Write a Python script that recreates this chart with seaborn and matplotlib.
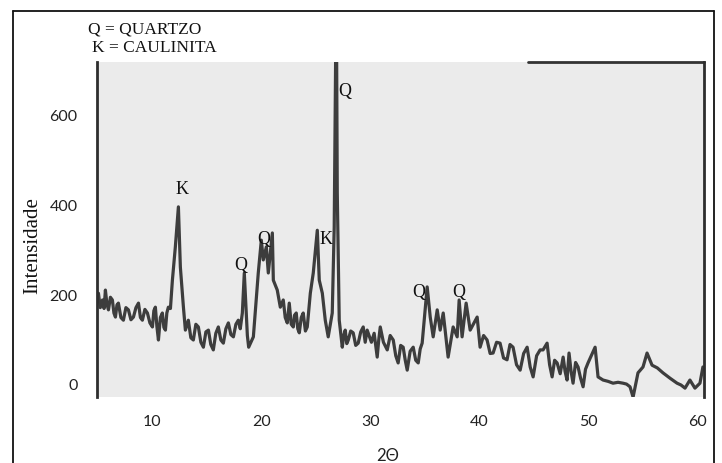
import matplotlib
matplotlib.use("Agg")
import matplotlib.pyplot as plt
from matplotlib.lines import Line2D
import seaborn as sns
import pandas as pd

# ---- data ----
two_theta = [
    5.08, 5.25, 5.45, 5.60, 5.72, 5.86, 6.00, 6.18, 6.36, 6.50, 6.64, 6.78, 6.91,
    7.14, 7.37, 7.60, 7.83, 8.06, 8.29, 8.52, 8.75, 8.93, 9.11, 9.34, 9.57, 9.80,
    10.03, 10.16, 10.30, 10.44, 10.58, 10.76, 10.94, 11.08, 11.22, 11.35, 11.49, 11.68,
    11.86, 12.13, 12.41, 12.59, 12.87,
    13.05, 13.32, 13.55, 13.78, 14.01, 14.24, 14.47, 14.70, 14.93, 15.16, 15.38, 15.61,
    15.84, 16.07, 16.30, 16.53, 16.76, 16.99, 17.22, 17.45, 17.68, 17.90, 18.08, 18.27,
    18.45, 18.73, 18.85, 19.28, 19.73, 20.01, 20.19, 20.47, 20.65, 21.02, 21.11, 21.47,
    21.75,
    22.02, 22.20, 22.39, 22.57, 22.75, 22.94, 23.05, 23.21, 23.35, 23.49, 23.67, 23.85,
    24.05, 24.22,
    24.50, 24.77, 25.14, 25.32, 25.60, 25.87, 26.14, 26.51, 26.69, 26.88, 26.97, 27.15,
    27.43, 27.56, 27.70, 27.84, 27.98, 28.20, 28.43, 28.66, 28.89, 29.12, 29.35, 29.53,
    29.71, 30.10, 30.35,
    30.63, 30.77, 30.91, 31.20, 31.55, 31.82, 32.10, 32.33, 32.55, 32.78, 33.01, 33.20,
    33.38, 33.65, 33.93, 34.16, 34.39, 34.57, 34.75,
    35.21, 35.49, 35.76, 36.13, 36.40, 36.68, 37.13, 37.59, 37.96, 38.14, 38.41, 38.78,
    39.15, 39.79,
    40.06, 40.38, 40.70, 40.98, 41.25, 41.57, 41.89, 42.21, 42.53, 42.80, 43.08, 43.40,
    43.73, 44.05, 44.37, 44.65, 44.92, 45.24, 45.56,
    45.83, 46.20, 46.43, 46.66, 46.89, 47.12, 47.40, 47.67, 47.85, 48.03, 48.21, 48.40,
    48.58, 48.81, 49.04, 49.27, 49.50, 49.72, 49.95,
    50.60, 50.87, 51.33, 51.80, 52.24, 52.70, 53.16, 53.48, 53.80, 54.08, 54.53, 54.99,
    55.36, 55.82, 56.30, 56.82, 57.47, 58.11, 58.47, 58.84, 59.29, 59.75, 60.21, 60.48,
]
intensity = [
    204, 172, 189, 170, 211, 180, 167, 195, 189, 160, 151, 178, 182,
    150, 144, 172, 167, 145, 151, 172, 182, 150, 144, 168, 160, 138,
    129, 165, 173, 130, 100, 150, 160, 128, 122, 160, 173, 170,
    233, 307, 396, 262, 173,
    122, 144, 105, 100, 135, 129, 95, 84, 118, 122, 90, 78,
    115, 129, 100, 93, 125, 138, 112, 107, 135, 144, 125, 160,
    249, 110, 84, 107, 249, 322, 278, 307, 249, 338, 233, 211,
    173,
    189, 150, 138, 182, 135, 129, 155, 160, 125, 116, 150, 160,
    120, 129,
    204, 249, 344, 233, 204, 144, 107, 160, 351, 900, 427, 144,
    84, 110, 122, 92, 100, 120, 116, 88, 93, 118, 129, 95,
    122, 95, 115,
    62, 100, 129, 95, 78, 110, 100, 65, 49, 88, 84, 55,
    33, 75, 84, 55, 49, 80, 93,
    218, 151, 107, 167, 122, 160, 62, 129, 107, 189, 107, 182,
    122, 151,
    84, 110, 100, 70, 71, 95, 93, 60, 56, 90, 84, 45,
    33, 70, 84, 40, 18, 65, 78,
    78, 93, 45, 18, 55, 49, 25, 62, 30, 11, 71, 30,
    4, 50, 40, 15, -4, 35, 49,
    84, 18, 11, 8, 4, 6, 4, 2, -4, -27, 27, 40,
    71, 44, 38, 27, 15, 4, 0, -7, 11, -7, 4, 40,
]
assert len(two_theta) == len(intensity)

x_ticks = [10, 20, 30, 40, 50, 60]
y_ticks = [0, 200, 400, 600]

peak_labels = ["K", "Q", "Q", "K", "Q", "Q", "Q"]
peak_x = [12.7, 18.1, 20.2, 25.9, 27.7, 34.4, 38.1]
peak_y = [435, 265, 323, 323, 652, 205, 205]

df = pd.DataFrame({"2Θ": two_theta, "Intensidade": intensity})

sns.set_style("white")
plt.rcParams["font.family"] = ["DejaVu Sans"]

fig = plt.figure(figsize=(7.22, 4.63), dpi=100)
ax = fig.add_axes([97 / 722, 1 - 397 / 463, (704 - 97) / 722, (397 - 62) / 463])
ax.set_facecolor("#ebebeb")

sns.lineplot(data=df, x="2Θ", y="Intensidade", ax=ax, sort=False, estimator=None,
             color="#3d3d3d", linewidth=2.3)

ax.set_xlim(4.95, 60.58)
ax.set_ylim(-26.7, 718)
ax.set_xticks(x_ticks)
ax.set_yticks(y_ticks)
ax.set_xticklabels([str(t) for t in x_ticks], family="Lato", fontsize=11.5, color="#222222")
ax.set_yticklabels([str(t) for t in y_ticks], family="Lato", fontsize=11.5, color="#222222")
ax.tick_params(axis="both", length=0)
ax.tick_params(axis="x", pad=13)
ax.tick_params(axis="y", pad=14)
ax.set_xlabel("")
ax.set_ylabel("")

for side in ["top", "bottom"]:
    ax.spines[side].set_visible(False)
for side in ["left", "right"]:
    ax.spines[side].set_color("#2e2e2e")
    ax.spines[side].set_linewidth(2.0)

# partial dark edge at the top right of the plot area
ax.plot([0.71, 1.0], [1.0, 1.0], transform=ax.transAxes, color="#333333",
        linewidth=2.0, clip_on=False)

for lab, px, py in zip(peak_labels, peak_x, peak_y):
    ax.text(px, py, lab, family="Liberation Serif", fontsize=13, ha="center",
            va="center", color="#111111")

fig.text(88 / 722, 1 - 30 / 463, "Q = QUARTZO", family="Liberation Serif",
         fontsize=12.5, ha="left", va="center", color="#111111")
fig.text(92 / 722, 1 - 48 / 463, "K = CAULINITA", family="Liberation Serif",
         fontsize=12.5, ha="left", va="center", color="#111111")
fig.text(33 / 722, 1 - 246 / 463, "Intensidade", family="Liberation Serif",
         fontsize=15, rotation=90, ha="center", va="center", color="#111111")
fig.text(388 / 722, 1 - 456 / 463, "2Θ", family="Lato", fontsize=12,
         ha="center", va="center", color="#222222")

# outer frame (bottom edge lies below the picture)
frame_kw = dict(color="#111111", linewidth=1.3, transform=fig.transFigure)
fig.add_artist(Line2D([13 / 722, 13 / 722], [0, 1 - 11 / 463], **frame_kw))
fig.add_artist(Line2D([13 / 722, 714 / 722], [1 - 11 / 463, 1 - 11 / 463], **frame_kw))
fig.add_artist(Line2D([714 / 722, 714 / 722], [0, 1 - 11 / 463], **frame_kw))

fig.savefig("out.png", dpi=100, facecolor="white")
